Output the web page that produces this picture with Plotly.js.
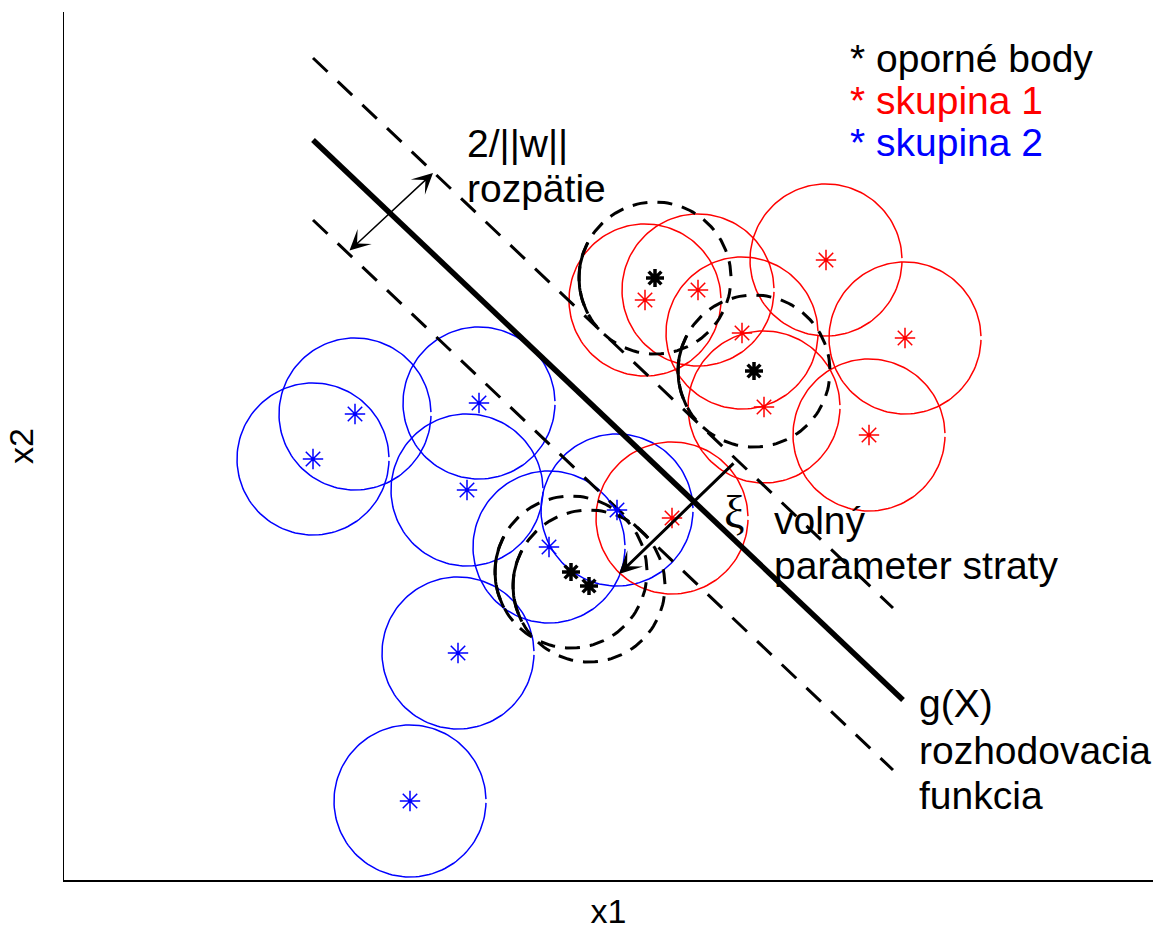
<!DOCTYPE html>
<html>
<head>
<meta charset="utf-8">
<script src="https://cdn.plot.ly/plotly-3.0.1.min.js"></script>
<style>html,body{margin:0;padding:0;background:#fff;}#chart{width:1158px;height:933px;}</style>
</head>
<body>
<div id="chart"></div>
<script>
// ---- data (plot units) ----
const redX  = [581, 634, 762, 678, 841, 700, 805, 608];   // skupina 1
const redY  = [580, 590, 620, 547, 542, 473, 445, 362];
const blueX = [291, 249, 415, 403, 553, 485, 394, 346];   // skupina 2
const blueY = [466, 421, 477, 390, 370, 333, 227, 79];
const svX   = [591, 690, 507, 525];                       // oporné body
const svY   = [602, 509, 308, 294];
const radius = 76;

const boundaryX = [249, 839], boundaryY = [740, 180];     // g(X)
const marginUpX = [249, 829], marginUpY = [822, 272];
const marginLoX = [249, 829], marginLoY = [660, 110];

const spanArrow = {x: 369, y: 707, ax: 284, ay: 628};      // 2/||w||
const xiArrow   = {x: 555, y: 306, ax: 671, ay: 418};      // ξ

const legendLabels = ['* oporné body', '* skupina 1', '* skupina 2'];
const legendColors = ['#000000', '#ff0000', '#0000ff'];

// ---- helpers ----
function arcs(cxs, cys, r, a0, a1, n) {
  const xs = [], ys = [];
  for (let k = 0; k < cxs.length; k++) {
    for (let i = 0; i <= n; i++) {
      const t = a0 + (a1 - a0) * i / n;
      xs.push(cxs[k] + r * Math.cos(t));
      ys.push(cys[k] + r * Math.sin(t));
    }
    xs.push(null); ys.push(null);
  }
  return {x: xs, y: ys};
}
const gap = 0.025;
const redC  = arcs(redX, redY, radius, gap, 2*Math.PI - gap, 140);
const blueC = arcs(blueX, blueY, radius, gap, 2*Math.PI - gap, 140);
const svC   = arcs(svX, svY, radius, gap, 2*Math.PI - gap, 140);
const svArc = arcs(svX, svY, radius, 152*Math.PI/180, 208*Math.PI/180, 30);

const FONT = 'Liberation Sans, Arial, Helvetica, sans-serif';

const traces = [
  {x: blueC.x, y: blueC.y, mode: 'lines', line: {color: '#0000ff', width: 1.5}, hoverinfo: 'skip'},
  {x: redC.x, y: redC.y, mode: 'lines', line: {color: '#ff0000', width: 1.5}, hoverinfo: 'skip'},
  {x: svC.x, y: svC.y, mode: 'lines', line: {color: '#000', width: 3, dash: '15px,10px'}, hoverinfo: 'skip'},
  {x: svArc.x, y: svArc.y, mode: 'lines', line: {color: '#000', width: 3}, hoverinfo: 'skip'},
  {x: marginUpX, y: marginUpY, mode: 'lines', line: {color: '#000', width: 3, dash: '20px,14px'}, hoverinfo: 'skip'},
  {x: marginLoX, y: marginLoY, mode: 'lines', line: {color: '#000', width: 3, dash: '20px,14px'}, hoverinfo: 'skip'},
  {x: boundaryX, y: boundaryY, mode: 'lines', line: {color: '#000', width: 5.5}, hoverinfo: 'skip'},
  {x: redX, y: redY, mode: 'markers', marker: {symbol: 'asterisk-open', size: 17, color: '#ff0000', line: {color: '#ff0000', width: 1.5}}, hoverinfo: 'skip'},
  {x: blueX, y: blueY, mode: 'markers', marker: {symbol: 'asterisk-open', size: 17, color: '#0000ff', line: {color: '#0000ff', width: 1.5}}, hoverinfo: 'skip'},
  {x: svX, y: svY, mode: 'markers', marker: {symbol: 'asterisk-open', size: 15, color: '#000', line: {color: '#000', width: 3.5}}, hoverinfo: 'skip'}
];

function txt(x, y, s, color, size, family) {
  return {x: x, y: y, xref: 'x', yref: 'y', text: s, showarrow: false,
          xanchor: 'left', yanchor: 'middle',
          font: {family: family || FONT, size: size || 39, color: color || '#000'}};
}

const annotations = [
  txt(784, 822, legendLabels[0], legendColors[0]),
  txt(784, 780, legendLabels[1], legendColors[1]),
  txt(784, 738, legendLabels[2], legendColors[2]),
  txt(401, 737, '2/||w||'),
  txt(401, 692, 'rozpätie'),
  txt(658, 368, 'ξ', '#000', 46, 'Liberation Serif, Times New Roman, serif'),
  txt(708, 360, 'volný'),
  txt(708, 315, 'parameter straty'),
  txt(853, 177, 'g(X)'),
  txt(853, 130, 'rozhodovacia'),
  txt(853, 85, 'funkcia'),
  {x: spanArrow.x, y: spanArrow.y, ax: spanArrow.ax, ay: spanArrow.ay,
   xref: 'x', yref: 'y', axref: 'x', ayref: 'y', text: '', showarrow: true,
   arrowside: 'end+start', arrowhead: 3, startarrowhead: 3,
   arrowsize: 2.3, startarrowsize: 2.3, arrowwidth: 1.5, arrowcolor: '#000'},
  {x: xiArrow.x, y: xiArrow.y, ax: xiArrow.ax, ay: xiArrow.ay,
   xref: 'x', yref: 'y', axref: 'x', ayref: 'y', text: '', showarrow: true,
   arrowhead: 3, arrowsize: 1.25, arrowwidth: 3, arrowcolor: '#000'}
];

const layout = {
  width: 1158, height: 933,
  margin: {l: 64, r: 5, t: 12, b: 53},
  paper_bgcolor: '#fff', plot_bgcolor: '#fff',
  showlegend: false,
  font: {family: FONT, color: '#000'},
  xaxis: {range: [0, 1089], showgrid: false, zeroline: false, showticklabels: false, ticks: '',
          showline: true, linecolor: '#000', linewidth: 1.5, fixedrange: true,
          title: {text: 'x1', font: {family: FONT, size: 34, color: '#000'}, standoff: 18}},
  yaxis: {range: [0, 868], showgrid: false, zeroline: false, showticklabels: false, ticks: '',
          showline: true, linecolor: '#000', linewidth: 1.5, fixedrange: true,
          title: {text: 'x2', font: {family: FONT, size: 34, color: '#000'}, standoff: 18}},
  annotations: annotations
};

Plotly.newPlot('chart', traces, layout, {displayModeBar: false, staticPlot: true});
</script>
</body>
</html>
